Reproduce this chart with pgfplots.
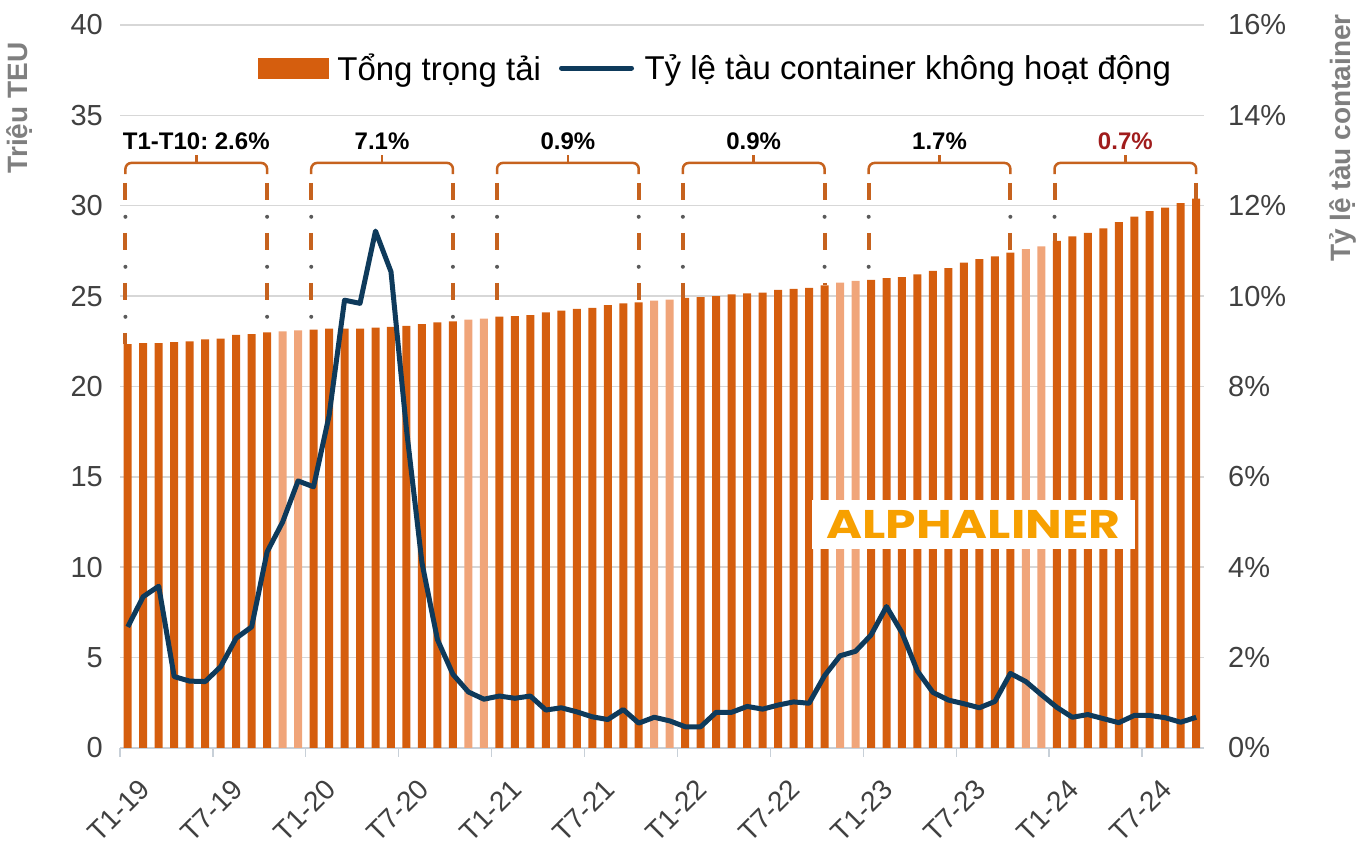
\documentclass[border=0pt]{standalone}
\usepackage{fontspec}
\setmainfont{Liberation Sans}
\newfontfamily\popfont[FakeStretch=1.22]{Poppins}
\usepackage{pgfplots}
\pgfplotsset{compat=1.18}
\frenchspacing
\definecolor{darkor}{RGB}{213,94,14}
\definecolor{lightor}{RGB}{240,165,122}
\definecolor{navy}{RGB}{14,58,91}
\definecolor{brk}{RGB}{198,98,30}
\definecolor{dotgray}{RGB}{90,90,90}
\definecolor{gridc}{RGB}{215,215,215}
\definecolor{tickc}{RGB}{64,64,64}
\definecolor{labc}{RGB}{127,127,127}
\definecolor{redl}{RGB}{160,28,28}
\definecolor{alph}{RGB}{247,160,0}
\definecolor{axc}{RGB}{200,208,216}

\newcommand{\brk}[5]{%
  \draw[brk, line width=2.5pt, rounded corners=6pt] (#1,31.75) -- (#1,32.37) -- (#2,32.37) -- (#2,31.75);
  \draw[brk, line width=2.5pt] ({(#1+#2)/2},32.37) -- ({(#1+#2)/2},32.8);
  \draw[brk, line width=4pt, dash pattern=on 17pt off 33pt] (#1,31.27) -- (#1,#3);
  \draw[brk, line width=4pt, dash pattern=on 17pt off 33pt] (#2,31.27) -- (#2,#4);
  \draw[dotgray, line width=4pt, line cap=round, dash pattern=on 0pt off 50pt, dash phase=16pt] (#1,31.27) -- (#1,#3);
  \draw[dotgray, line width=4pt, line cap=round, dash pattern=on 0pt off 50pt, dash phase=16pt] (#2,31.27) -- (#2,#4);
  \node[font=\bfseries\fontsize{24}{26}\selectfont, anchor=base] at ({(#1+#2)/2},33.1) {#5};
}

\begin{document}
\begin{tikzpicture}
\useasboundingbox (0,0) rectangle (1365pt,845pt);
\begin{axis}[
  at={(120pt,97pt)}, anchor=south west,
  scale only axis, width=1084pt, height=723pt,
  xmin=-0.5, xmax=69.5, ymin=0, ymax=40,
  axis x line*=bottom, axis y line*=left,
  x axis line style={draw=axc, line width=1.2pt},
  y axis line style={draw=none},
  ytick={0,5,...,40},
  ytick style={draw=none},
  xtick={-0.5,5.5,...,65.5},
  xticklabels={T1-19,T7-19,T1-20,T7-20,T1-21,T7-21,T1-22,T7-22,T1-23,T7-23,T1-24,T7-24},
  xtick style={draw=axc, line width=1.2pt},
  tick align=outside, major tick length=9pt,
  ymajorgrids=true,
  major grid style={draw=gridc, line width=1.5pt},
  /pgf/number format/assume math mode=true,
  yticklabel style={font=\fontsize{29}{31}\selectfont, color=tickc, inner sep=0pt, anchor=east, xshift=-8pt},
  xticklabel style={font=\fontsize{28}{30}\selectfont, color=tickc, rotate=45, anchor=east, inner sep=0pt, xshift=-2pt, yshift=-37pt},
  clip=false,
]
% dark bars (Jan-Oct)
\addplot[ybar, bar width=8pt, bar shift=0pt, fill=darkor, draw=none] coordinates {
(0,22.35) (1,22.4) (2,22.4) (3,22.45) (4,22.5) (5,22.6) (6,22.65) (7,22.85) (8,22.9) (9,23.0)
(12,23.15) (13,23.2) (14,23.2) (15,23.2) (16,23.25) (17,23.3) (18,23.35) (19,23.45) (20,23.55) (21,23.6)
(24,23.87) (25,23.9) (26,23.95) (27,24.1) (28,24.2) (29,24.3) (30,24.35) (31,24.5) (32,24.6) (33,24.65)
(36,24.9) (37,24.95) (38,25.0) (39,25.1) (40,25.15) (41,25.2) (42,25.35) (43,25.4) (44,25.45) (45,25.6)
(48,25.9) (49,26.0) (50,26.05) (51,26.2) (52,26.4) (53,26.55) (54,26.85) (55,27.05) (56,27.2) (57,27.4)
(60,28.05) (61,28.3) (62,28.5) (63,28.75) (64,29.1) (65,29.4) (66,29.7) (67,29.9) (68,30.15) (69,30.4)
};
% light bars (Nov-Dec)
\addplot[ybar, bar width=8pt, bar shift=0pt, fill=lightor, draw=none] coordinates {
(10,23.05) (11,23.1) (22,23.7) (23,23.75) (34,24.75) (35,24.8)
(46,25.75) (47,25.85) (58,27.6) (59,27.75)
};
\brk{-0.15}{9}{22.35}{23.0}{T1-T10: 2.6\%}
\brk{11.85}{21}{23.15}{23.6}{7.1\%}
\brk{23.85}{33}{23.87}{24.65}{0.9\%}
\brk{35.85}{45}{24.9}{25.6}{0.9\%}
\brk{47.85}{57}{25.9}{27.4}{1.7\%}
\brk{59.85}{69}{28.05}{30.4}{\textcolor{redl}{0.7\%}}
\end{axis}

\begin{axis}[
  at={(120pt,97pt)}, anchor=south west,
  scale only axis, width=1084pt, height=723pt,
  xmin=-0.5, xmax=69.5, ymin=0, ymax=16,
  axis x line=none, axis y line*=right,
  y axis line style={draw=none},
  ytick={0,2,...,16},
  ytick style={draw=none},
  /pgf/number format/assume math mode=true,
  yticklabel={\pgfmathprintnumber{\tick}\%},
  yticklabel style={font=\fontsize{29}{31}\selectfont, color=tickc, inner sep=0pt, anchor=west, xshift=24pt},
  legend style={at={(rel axis cs:0.5495,0.9405)}, anchor=center, draw=none, fill=none,
    legend columns=2, font=\fontsize{33}{36}\selectfont, inner sep=0pt,
    /tikz/every even column/.append style={column sep=16pt}},
  legend cell align=left,
]
\addlegendimage{legend image code/.code={\fill[darkor] (0pt,-10pt) rectangle (70pt,10pt); \path[draw=none,fill=none] (77pt,0pt) circle (0pt);}}
\addlegendentry{Tổng trọng tải}
\addplot[navy, line width=5pt, line join=round, mark=none,
  legend image code/.code={\draw[navy, line width=5pt, line cap=round] (0pt,0pt) -- (70pt,0pt); \path[draw=none,fill=none] (81pt,0pt) circle (0pt);}] coordinates {
(0,2.68) (1,3.35) (2,3.58) (3,1.58) (4,1.48) (5,1.47) (6,1.8) (7,2.43) (8,2.68) (9,4.34) (10,5.0) (11,5.91)
(12,5.78) (13,7.35) (14,9.91) (15,9.84) (16,11.44) (17,10.54) (18,7.05) (19,4.1) (20,2.4) (21,1.63) (22,1.24) (23,1.08)
(24,1.15) (25,1.1) (26,1.15) (27,0.84) (28,0.89) (29,0.8) (30,0.69) (31,0.63) (32,0.85) (33,0.55) (34,0.68) (35,0.6)
(36,0.47) (37,0.47) (38,0.79) (39,0.79) (40,0.92) (41,0.86) (42,0.95) (43,1.02) (44,0.99) (45,1.6) (46,2.04) (47,2.14)
(48,2.5) (49,3.13) (50,2.55) (51,1.7) (52,1.23) (53,1.06) (54,0.98) (55,0.89) (56,1.03) (57,1.65) (58,1.47) (59,1.18)
(60,0.9) (61,0.68) (62,0.74) (63,0.65) (64,0.56) (65,0.72) (66,0.72) (67,0.67) (68,0.57) (69,0.68)
};
\addlegendentry{Tỷ lệ tàu container không hoạt động}
\end{axis}

\fill[white] (812pt,296pt) rectangle (1135pt,345pt);
\node[font=\popfont\bfseries\fontsize{40}{42}\selectfont, color=alph] at (973.5pt,320.5pt) {ALPHALINER};
\node[rotate=90, font=\bfseries\fontsize{28}{30}\selectfont, color=labc] at (20pt,737pt) {Triệu TEU};
\node[rotate=90, font=\bfseries\fontsize{28}{30}\selectfont, color=labc] at (1343pt,707pt) {Tỷ lệ tàu container};
\end{tikzpicture}
\end{document}
